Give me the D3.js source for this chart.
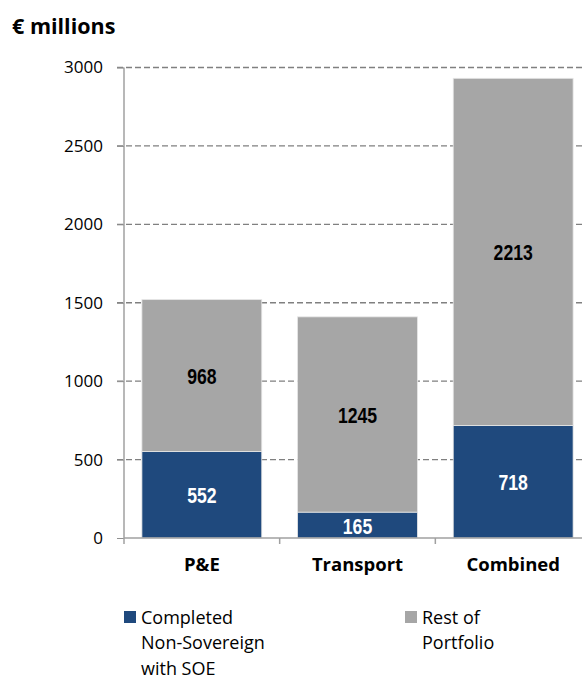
<!DOCTYPE html>
<html><head><meta charset="utf-8">
<script src="https://cdn.jsdelivr.net/npm/d3@7"></script>
<style>body{margin:0;background:#fff}</style>
</head><body>
<script>
const categories = ["P&E", "Transport", "Combined"];
const completed = [552, 165, 718];
const rest = [968, 1245, 2213];
const yTicks = [0, 500, 1000, 1500, 2000, 2500, 3000];
const seriesNames = ["Completed Non-Sovereign with SOE", "Rest of Portfolio"];
const colors = ["#1f497d", "#a6a6a6"];

const W = 582, H = 675;
const svg = d3.select("body").append("svg").attr("width", W).attr("height", H);
const font = "'Open Sans', 'Liberation Sans', sans-serif";
const narrow = "'Liberation Sans', sans-serif";

const x = d3.scaleBand().domain(categories).range([124, 591]).paddingInner(0.23).paddingOuter(0.115);
const y = d3.scaleLinear().domain([0, 3000]).range([538, 67.5]);

// title
svg.append("text").attr("x", 12).attr("y", 34).text("€ millions")
  .attr("font-family", font).attr("font-weight", "bold").attr("font-size", 21.5).attr("fill", "#000");

// gridlines
svg.append("g").selectAll("line").data(yTicks.filter(d => d > 0)).join("line")
  .attr("x1", 117).attr("x2", W).attr("y1", d => y(d)).attr("y2", d => y(d))
  .attr("stroke", "#808080").attr("stroke-width", 1.3).attr("stroke-dasharray", "6,3");

// y axis
const yAxis = d3.axisLeft(y).tickValues(yTicks).tickSize(7).tickPadding(14).tickFormat(d3.format("d"));
const gy = svg.append("g").attr("transform", "translate(124,0)").call(yAxis);
gy.select(".domain").attr("stroke", "#a0a0a0").attr("stroke-width", 1.5).attr("d", `M0,${y(3000)}V${y(0)}`);
gy.selectAll(".tick line").attr("stroke", "#909090");
gy.selectAll(".tick text").attr("font-family", font).attr("font-size", 17).attr("fill", "#000");

// stacked data
const data = categories.map((c, i) => ({cat: c, completed: completed[i], rest: rest[i]}));
const stack = d3.stack().keys(["completed", "rest"])(data);

const bars = svg.append("g");
stack.forEach((layer, li) => {
  bars.selectAll(null).data(layer).join("rect")
    .attr("x", d => x(d.data.cat)).attr("width", x.bandwidth())
    .attr("y", d => y(d[1])).attr("height", d => y(d[0]) - y(d[1]))
    .attr("fill", colors[li]).attr("stroke", "#e6e6e6").attr("stroke-width", 0.8);
  bars.selectAll(null).data(layer).join("text")
    .attr("transform", d => `translate(${x(d.data.cat) + x.bandwidth() / 2},${(y(d[0]) + y(d[1])) / 2 + 8.5}) scale(0.8,1)`)
    .attr("text-anchor", "middle")
    .attr("font-family", narrow).attr("font-weight", "bold").attr("font-size", 22)
    .attr("fill", li === 0 ? "#fff" : "#000")
    .text(d => d[1] - d[0]);
});

// x axis
const gx = svg.append("g").attr("transform", `translate(0,${y(0)})`)
  .call(d3.axisBottom(x).tickSize(0).tickPadding(20));
gx.select(".domain").attr("stroke", "#a0a0a0").attr("stroke-width", 1.5).attr("d", `M124,0H591`);
gx.selectAll(".tick text").attr("font-family", font).attr("font-weight", "bold").attr("font-size", 18.5).attr("fill", "#000");
// category separator ticks
const seps = [124, ...categories.slice(1).map(c => x(c) - x.step() * x.paddingInner() / 2)];
svg.append("g").selectAll("line").data(seps).join("line")
  .attr("x1", d => d).attr("x2", d => d).attr("y1", y(0)).attr("y2", y(0) + 6)
  .attr("stroke", "#a0a0a0").attr("stroke-width", 1.5);

// legend
const legendLines = [["Completed", "Non-Sovereign", "with SOE"], ["Rest of", "Portfolio"]];
const legendX = [124, 405];
legendLines.forEach((lines, i) => {
  const g = svg.append("g").attr("transform", `translate(${legendX[i]},611)`);
  g.append("rect").attr("width", 12).attr("height", 12).attr("fill", colors[i]);
  const t = g.append("text").attr("x", 17).attr("y", 12.5)
    .attr("font-family", font).attr("font-size", 18).attr("fill", "#000");
  lines.forEach((l, j) => t.append("tspan").attr("x", 17).attr("dy", j === 0 ? 0 : 25.5).text(l));
});
</script>
</body></html>
